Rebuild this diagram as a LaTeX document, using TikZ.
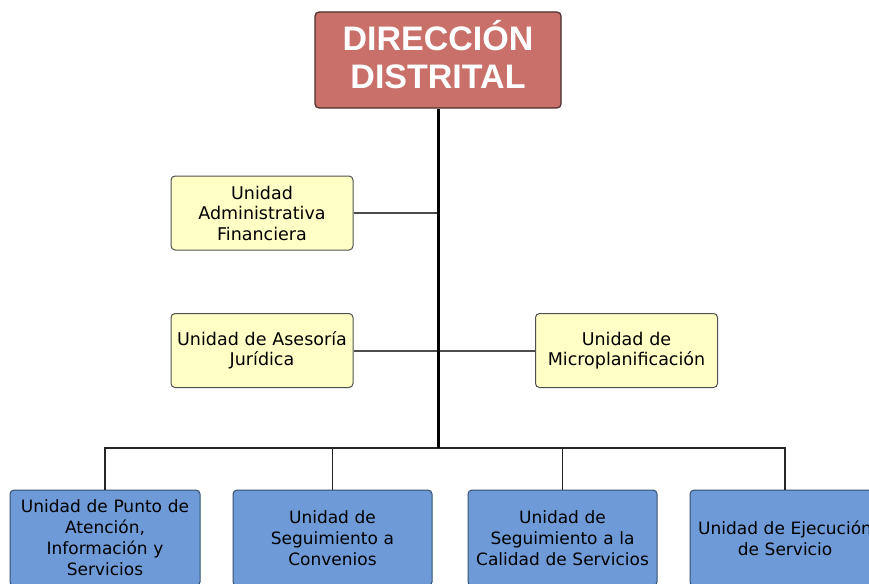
\documentclass[tikz,border=0pt]{standalone}
\usepackage{fontspec}
\setmainfont{DejaVu Sans}
\newfontfamily\titlefont{Liberation Sans}
\definecolor{dirfill}{HTML}{C9706A}
\definecolor{dirdraw}{HTML}{4A2E2C}
\definecolor{yelfill}{HTML}{FFFFC6}
\definecolor{yeldraw}{HTML}{505050}
\definecolor{blufill}{HTML}{6E9BD8}
\definecolor{bludraw}{HTML}{34506E}
\begin{document}
\begin{tikzpicture}[x=1pt,y=-1pt,
  dirbox/.style={draw=dirdraw,fill=dirfill,line width=1.2pt,rounded corners=4pt,minimum width=246pt,minimum height=96pt,inner sep=0pt,text=white,font=\titlefont\bfseries\fontsize{34}{38}\selectfont},
  yelbox/.style={draw=yeldraw,fill=yelfill,line width=1pt,rounded corners=4pt,minimum width=182pt,minimum height=74pt,inner sep=1pt,text width=180pt,align=center,font=\fontsize{17.5}{20.5}\selectfont},
  blubox/.style={draw=bludraw,fill=blufill,line width=1pt,rounded corners=4pt,minimum height=96pt,inner sep=1pt,align=center,font=\fontsize{17}{21}\selectfont},
  trunk/.style={line width=3pt,black},
  branch/.style={line width=2pt,draw=black!70},
  bus/.style={line width=1.8pt,draw=black!85}]
\useasboundingbox (0,0) rectangle (869,583);
\clip (0,0) rectangle (869,583);
\fill[white] (0,0) rectangle (869,583);
\node[dirbox] (dir) at (438,60) {\raisebox{4pt}{\begin{tabular}{@{}c@{}}DIRECCIÓN\\DISTRITAL\end{tabular}}};
\node[yelbox] (adm) at (262,213) {Unidad\\Administrativa\\Financiera};
\node[yelbox] (jur) at (262,350.5) {Unidad de Asesoría\\Jurídica};
\node[yelbox] (mic) at (626.5,350.5) {Unidad de\\Microplanificación};
\node[blubox,minimum width=190pt,text width=188pt] (b1) at (105,538) {Unidad de Punto de\\Atención,\\Información y\\Servicios};
\node[blubox,minimum width=199pt,text width=197pt] (b2) at (332.5,538) {Unidad de\\Seguimiento a\\Convenios};
\node[blubox,minimum width=189pt,text width=187pt] (b3) at (562.5,538) {Unidad de\\Seguimiento a la\\Calidad de Servicios};
\node[blubox,minimum width=190pt,text width=188pt] (b4) at (785,538) {Unidad de Ejecución\\de Servicio};
\coordinate (j1) at (438,213);
\coordinate (bj) at (438,448);
\draw[branch] (adm.east) -- (j1);
\draw[branch] (jur.east) -- (mic.west);
\draw[bus] (b1.north) |- (bj) -| (b4.north);
\draw[bus] (b2.north) -- (b2.north |- bj);
\draw[bus] (b3.north) -- (b3.north |- bj);
\draw[trunk] (dir.south) -- (bj);
\end{tikzpicture}
\end{document}
